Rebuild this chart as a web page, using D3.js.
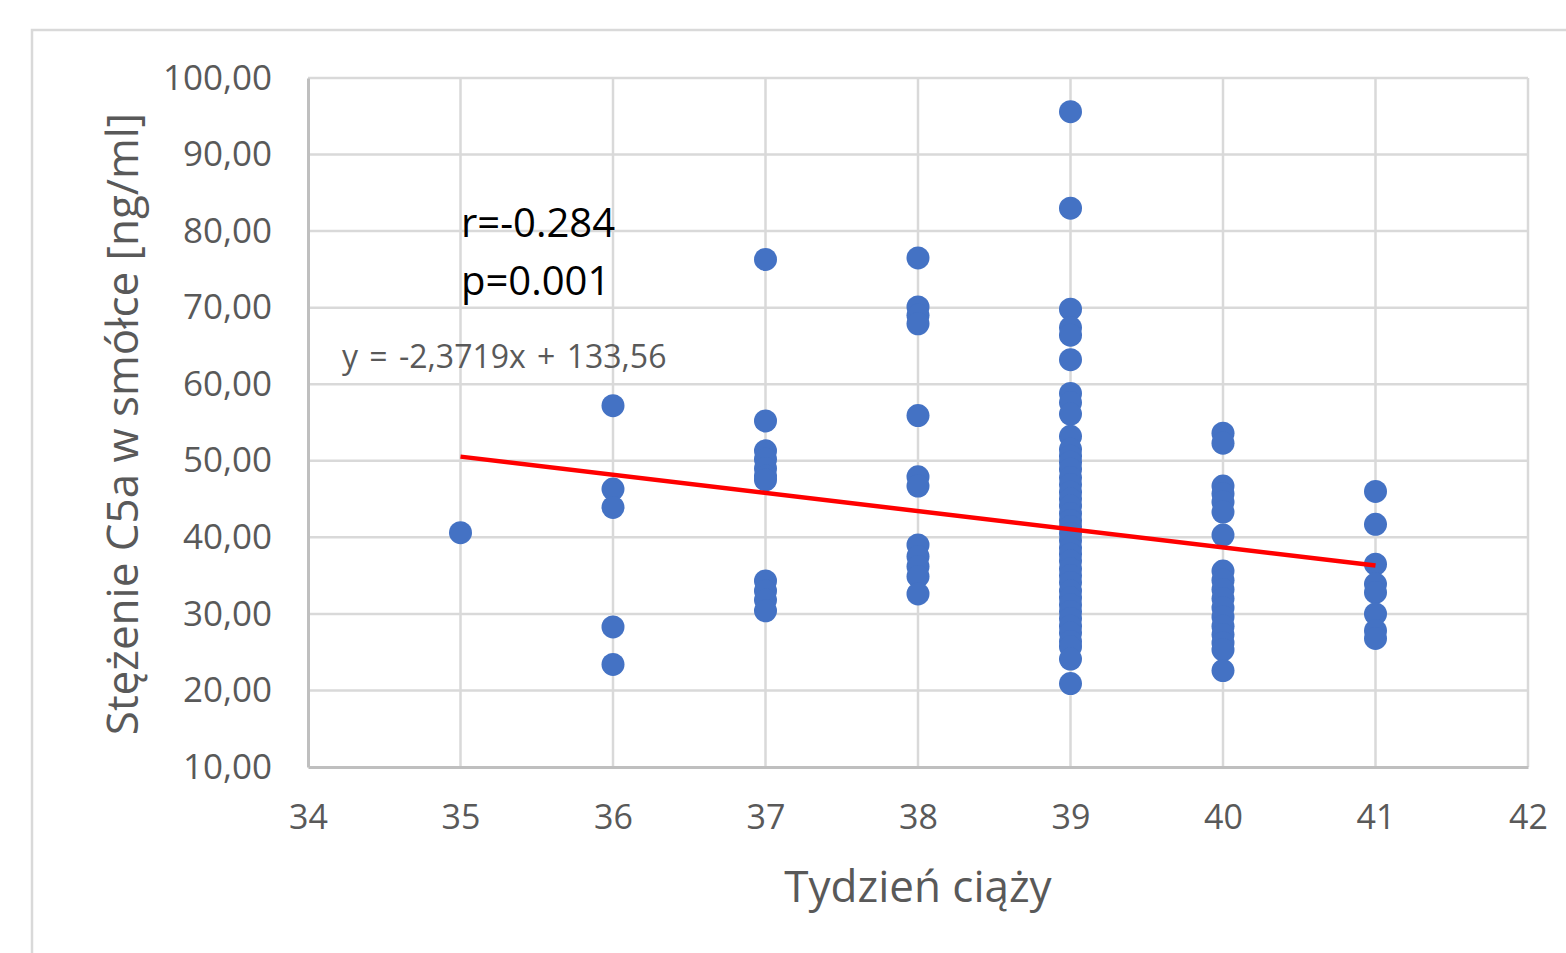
<!DOCTYPE html>
<html>
<head>
<meta charset="utf-8">
<script src="https://cdn.jsdelivr.net/npm/d3@7"></script>
<style>
  body { margin: 0; background: #fff; }
  text { font-family: "Open Sans", "Noto Sans", sans-serif; }
</style>
</head>
<body>
<div id="chart"></div>
<script>
// week of pregnancy -> C5a values
const weeks = [35, 36, 37, 38, 39, 40, 41];
const week35 = [40.6];
const week36 = [57.2, 46.3, 43.9, 28.3, 23.4];
const week37 = [76.3, 55.2, 51.3, 50.2, 49.0, 48.0, 47.5, 34.3, 33.0, 31.8, 30.4];
const week38 = [76.5, 70.1, 69.0, 67.9, 55.9, 47.9, 46.7, 39.0, 37.5, 36.2, 34.9, 32.6];
const week39 = [95.6, 83.0, 69.8, 67.4, 66.4, 63.2, 58.8, 57.6, 56.1, 53.2, 51.5, 50.6, 49.8, 48.9,
  47.8, 46.9, 45.9, 45.0, 44.1, 43.1, 42.2, 41.4, 40.5, 39.6, 38.6, 37.8, 36.9, 35.9, 35.0, 34.1,
  33.0, 32.1, 31.2, 30.3, 29.4, 28.4, 27.5, 26.4, 25.7, 24.1, 20.9];
const week40 = [53.6, 52.3, 46.7, 45.7, 44.6, 43.3, 40.3, 35.6, 34.4, 33.2, 32.0, 30.8, 29.6,
  28.4, 27.3, 26.2, 25.3, 22.6];
const week41 = [46.0, 41.7, 36.5, 33.9, 32.8, 30.0, 27.8, 26.8];
const valuesByWeek = [week35, week36, week37, week38, week39, week40, week41];

const xTicks = [34, 35, 36, 37, 38, 39, 40, 41, 42];
const yTicks = [10, 20, 30, 40, 50, 60, 70, 80, 90, 100];
const trendSlope = -2.3719;
const trendIntercept = 133.56;
const trendRange = [35, 41];

const points = [];
weeks.forEach((w, i) => valuesByWeek[i].forEach(v => points.push({ x: w, y: v })));

const width = 1566, height = 953;
const margin = { left: 308, right: 38, top: 78, bottom: 186 };

const svg = d3.select('#chart').append('svg')
  .attr('width', width)
  .attr('height', height);

// chart frame
svg.append('rect')
  .attr('x', 32).attr('y', 30)
  .attr('width', width).attr('height', height)
  .attr('fill', 'none')
  .attr('stroke', '#d9d9d9')
  .attr('stroke-width', 2.5);

const x = d3.scaleLinear().domain([34, 42]).range([margin.left, width - margin.right]);
const y = d3.scaleLinear().domain([10, 100]).range([height - margin.bottom, margin.top]);

const fmt = d => d3.format('.2f')(d).replace('.', ',');

// gridlines
svg.append('g')
  .selectAll('line.hgrid')
  .data(yTicks.slice(1))
  .join('line')
  .attr('class', 'hgrid')
  .attr('x1', x(34)).attr('x2', x(42))
  .attr('y1', d => y(d)).attr('y2', d => y(d))
  .attr('stroke', '#d9d9d9').attr('stroke-width', 2.5);

svg.append('g')
  .selectAll('line.vgrid')
  .data(xTicks.slice(1))
  .join('line')
  .attr('class', 'vgrid')
  .attr('x1', d => x(d)).attr('x2', d => x(d))
  .attr('y1', y(10)).attr('y2', y(100))
  .attr('stroke', '#d9d9d9').attr('stroke-width', 2.5);

// axes
const xAxis = svg.append('g')
  .attr('transform', `translate(0,${y(10)})`)
  .call(d3.axisBottom(x).tickValues(xTicks).tickSize(0).tickPadding(38).tickFormat(d3.format('d')));
xAxis.select('.domain').attr('stroke', '#bfbfbf').attr('stroke-width', 3);
xAxis.selectAll('text')
  .attr('fill', '#595959')
  .style('font-size', '34px');

const yAxis = svg.append('g')
  .attr('transform', `translate(${x(34)},0)`)
  .call(d3.axisLeft(y).tickValues(yTicks).tickSize(0).tickPadding(36).tickFormat(fmt));
yAxis.select('.domain').attr('stroke', '#bfbfbf').attr('stroke-width', 3);
yAxis.selectAll('text')
  .attr('fill', '#595959')
  .style('font-size', '35px');

// points
svg.append('g')
  .selectAll('circle')
  .data(points)
  .join('circle')
  .attr('cx', d => x(d.x))
  .attr('cy', d => y(d.y))
  .attr('r', 11.5)
  .attr('fill', '#4472c4');

// trend line
svg.append('line')
  .attr('x1', x(trendRange[0]))
  .attr('y1', y(trendSlope * trendRange[0] + trendIntercept))
  .attr('x2', x(trendRange[1]))
  .attr('y2', y(trendSlope * trendRange[1] + trendIntercept))
  .attr('stroke', '#ff0000')
  .attr('stroke-width', 4.5);

// annotations
svg.append('text')
  .attr('x', 461).attr('y', 237)
  .style('font-size', '40px')
  .attr('fill', '#000')
  .text('r=-0.284');
svg.append('text')
  .attr('x', 461).attr('y', 295)
  .style('font-size', '40px')
  .attr('fill', '#000')
  .text('p=0.001');
svg.append('text')
  .attr('x', 342).attr('y', 368)
  .style('font-size', '32px')
  .style('word-spacing', '3px')
  .attr('fill', '#595959')
  .text('y = -2,3719x + 133,56');

// axis titles
svg.append('text')
  .attr('x', (x(34) + x(42)) / 2).attr('y', 902)
  .attr('text-anchor', 'middle')
  .style('font-size', '44px')
  .attr('fill', '#595959')
  .text('Tydzień ciąży');

svg.append('text')
  .attr('transform', 'translate(138,424) rotate(-90)')
  .attr('text-anchor', 'middle')
  .style('font-size', '44px')
  .attr('fill', '#595959')
  .text('Stężenie C5a w smółce [ng/ml]');
</script>
</body>
</html>
